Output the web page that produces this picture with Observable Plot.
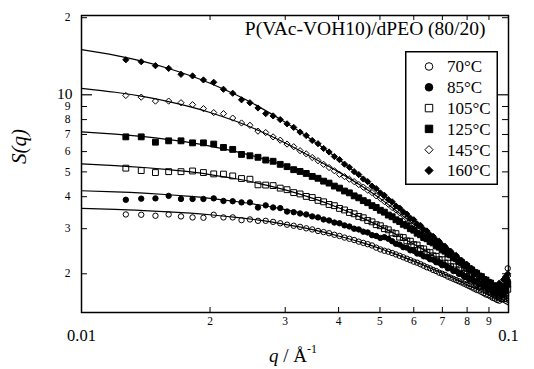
<!DOCTYPE html>
<html><head><meta charset="utf-8">
<script src="https://cdn.jsdelivr.net/npm/d3@7"></script>
<script src="https://cdn.jsdelivr.net/npm/@observablehq/plot@0.6"></script>
<style>
body{margin:0;background:#fff;}
#wrap{position:relative;width:534px;height:369px;font-family:"Liberation Serif","Times New Roman",serif;color:#000;}
#xtitle{position:absolute;left:233px;width:120px;top:346px;text-align:center;font-size:19px;line-height:19px;white-space:nowrap;}
#xtitle sup{font-size:12px;vertical-align:0;position:relative;top:-9px;}
#legend{position:absolute;left:405px;top:51px;}
</style></head><body><div id="wrap"><div id="xtitle"><i>q</i> / Å<sup>-1</sup></div><div id="legend"></div></div>
<script>
// ---- data ----
const temps = ["70°C","85°C","105°C","125°C","145°C","160°C"];
const q = [0.0127,0.0138,0.0149,0.0160,0.0171,0.0182,0.0193,0.0204,0.0215,0.0226,0.0237,0.0248,0.0259,0.0270,0.0281,0.0292,0.0303,0.0314,0.0325,0.0336,0.0347,0.0358,0.0369,0.0380,0.0391,0.0402,0.0413,0.0424,0.0435,0.0446,0.0457,0.0468,0.0479,0.0490,0.0501,0.0512,0.0523,0.0534,0.0545,0.0556,0.0567,0.0578,0.0589,0.0600,0.0611,0.0622,0.0633,0.0644,0.0655,0.0666,0.0677,0.0688,0.0699,0.0710,0.0721,0.0732,0.0743,0.0754,0.0765,0.0776,0.0787,0.0798,0.0809,0.0820,0.0831,0.0842,0.0853,0.0864,0.0875,0.0886,0.0897,0.0908,0.0919,0.0930,0.0941,0.0952,0.0963,0.0974,0.0985,0.0996];
const s70 = [3.41,3.40,3.37,3.41,3.35,3.32,3.31,3.40,3.32,3.32,3.24,3.26,3.22,3.22,3.19,3.15,3.11,3.08,3.05,3.01,2.98,2.94,2.91,2.88,2.84,2.81,2.77,2.74,2.71,2.67,2.64,2.61,2.58,2.53,2.49,2.46,2.44,2.41,2.38,2.35,2.32,2.29,2.26,2.23,2.21,2.18,2.15,2.12,2.10,2.07,2.05,2.02,2.00,1.98,1.95,1.93,1.91,1.89,1.87,1.85,1.83,1.81,1.79,1.77,1.75,1.73,1.72,1.70,1.68,1.66,1.65,1.63,1.61,1.60,1.58,1.57,1.59,1.62,1.70,2.10];
const s85 = [3.89,3.93,3.94,4.03,3.92,3.92,3.92,3.94,3.85,3.84,3.80,3.80,3.63,3.70,3.63,3.61,3.50,3.48,3.44,3.41,3.35,3.32,3.26,3.23,3.17,3.15,3.09,3.06,3.00,2.98,2.92,2.90,2.83,2.81,2.76,2.78,2.74,2.68,2.62,2.60,2.54,2.53,2.47,2.46,2.40,2.39,2.34,2.33,2.28,2.27,2.22,2.21,2.16,2.16,2.10,2.10,2.05,2.05,2.00,2.00,1.95,1.95,1.90,1.91,1.86,1.87,1.82,1.83,1.78,1.80,1.74,1.76,1.70,1.72,1.67,1.70,1.66,1.74,1.80,1.88];
const s105 = [5.17,5.06,4.97,5.01,5.01,5.04,4.97,4.91,4.90,4.82,4.71,4.68,4.45,4.44,4.42,4.32,4.26,4.15,4.10,4.01,3.97,3.87,3.82,3.73,3.69,3.60,3.55,3.47,3.43,3.35,3.31,3.23,3.19,3.11,3.08,3.00,2.97,2.89,2.87,2.78,2.77,2.69,2.68,2.60,2.59,2.51,2.50,2.43,2.42,2.35,2.34,2.27,2.27,2.20,2.20,2.13,2.13,2.07,2.07,2.01,2.01,1.95,1.96,1.89,1.90,1.84,1.85,1.79,1.80,1.74,1.76,1.70,1.72,1.65,1.68,1.62,1.66,1.60,1.68,1.74];
const s125 = [6.85,6.85,6.53,6.61,6.61,6.49,6.49,6.42,6.23,6.12,5.85,5.78,5.70,5.56,5.50,5.35,5.24,5.10,5.02,4.93,4.80,4.72,4.60,4.52,4.40,4.32,4.21,4.14,4.03,3.96,3.86,3.79,3.69,3.63,3.54,3.48,3.39,3.34,3.25,3.20,3.12,3.08,3.00,2.96,2.88,2.84,2.77,2.74,2.67,2.64,2.57,2.54,2.48,2.45,2.39,2.37,2.31,2.29,2.23,2.21,2.16,2.14,2.09,2.07,2.02,2.01,1.96,1.95,1.90,1.89,1.85,1.84,1.79,1.79,1.74,1.76,1.70,1.78,1.72,1.82];
const s145 = [9.94,9.79,9.45,9.45,9.31,9.15,8.83,8.52,8.44,8.11,7.76,7.60,7.21,7.12,6.85,6.65,6.42,6.27,6.05,5.88,5.69,5.53,5.35,5.20,5.05,4.89,4.79,4.68,4.58,4.46,4.36,4.24,4.15,4.03,3.94,3.83,3.74,3.63,3.55,3.46,3.38,3.29,3.22,3.13,3.07,2.98,2.93,2.84,2.79,2.71,2.67,2.59,2.55,2.48,2.45,2.37,2.35,2.27,2.25,2.19,2.17,2.08,2.07,2.01,2.00,1.94,1.95,1.88,1.89,1.82,1.84,1.76,1.79,1.71,1.75,1.68,1.80,1.72,1.88,1.96];
const s160 = [13.70,13.46,12.99,12.68,12.02,11.85,11.43,11.19,10.51,10.14,9.56,9.31,8.88,8.44,8.27,8.00,7.70,7.46,7.15,6.93,6.63,6.44,6.17,5.98,5.74,5.58,5.36,5.21,5.01,4.88,4.69,4.58,4.40,4.30,4.14,4.05,3.90,3.82,3.68,3.61,3.49,3.42,3.30,3.25,3.13,3.09,2.98,2.94,2.84,2.80,2.71,2.68,2.59,2.56,2.48,2.45,2.37,2.36,2.28,2.26,2.19,2.18,2.11,2.10,2.03,2.03,1.96,1.96,1.90,1.90,1.84,1.85,1.78,1.80,1.74,1.84,1.80,1.90,1.95,2.00];

// fitted curves
const qFit = [0.010,0.012,0.014,0.016,0.018,0.020,0.023,0.026,0.030,0.035,0.040,0.045,0.050,0.055,0.060,0.065,0.070,0.075,0.080,0.085,0.090,0.095,0.100];
const fit70  = [3.60,3.57,3.53,3.49,3.45,3.40,3.32,3.24,3.12,2.97,2.81,2.66,2.51,2.37,2.24,2.12,2.01,1.91,1.81,1.73,1.65,1.58,1.51];
const fit85  = [4.22,4.18,4.13,4.07,4.01,3.94,3.83,3.72,3.56,3.36,3.16,2.96,2.78,2.61,2.45,2.30,2.17,2.04,1.93,1.84,1.75,1.66,1.59];
const fit105 = [5.37,5.29,5.20,5.10,5.00,4.88,4.70,4.51,4.25,3.93,3.62,3.33,3.07,2.83,2.61,2.42,2.24,2.09,1.95,1.83,1.72,1.62,1.54];
const fit125 = [7.16,7.02,6.86,6.68,6.50,6.30,6.00,5.69,5.28,4.79,4.33,3.92,3.55,3.23,2.95,2.70,2.48,2.29,2.12,1.98,1.85,1.74,1.63];
const fit145 = [10.60,10.23,9.83,9.40,8.97,8.53,7.88,7.25,6.48,5.65,5.00,4.43,3.94,3.49,3.12,2.80,2.54,2.31,2.11,1.95,1.80,1.67,1.56];
const fit160 = [15.00,14.26,13.47,12.67,11.87,11.10,10.00,8.99,7.81,6.59,5.60,4.81,4.17,3.66,3.24,2.89,2.60,2.36,2.16,1.99,1.84,1.71,1.60];

// axis ticks
const xMinor = [0.02,0.03,0.04,0.05,0.06,0.07,0.08,0.09];
const xMinorLabels = ["2","3","4","5","6","7","8","9"];
const xMajor = [0.01,0.1];
const xMajorLabels = ["0.01","0.1"];
const yMinor = [2,3,4,5,6,7,8,9,20];
const yMinorLabels = ["2","3","4","5","6","7","8","9","2"];
const yMajor = [10];
const yMajorLabels = ["10"];

// ---- build ----
const values = [s70,s85,s105,s125,s145,s160];
const fitsAll = [fit70,fit85,fit105,fit125,fit145,fit160];
const symbols = ["circle","circle","square","square","diamond2","diamond2"];
const filled = [false,true,false,true,false,true];
const radii = [2.7,2.7,3.3,3.3,2.8,2.8];

const W = 534, H = 369, mT = 15, mB = 57, mL = 81, mR = 26;
const FW = W - mL - mR, FH = H - mT - mB;

const fitRows = temps.flatMap((t,k) => qFit.map((qq,i) => ({q: qq, S: fitsAll[k][i], t})));
const dotMarks = temps.map((t,k) => Plot.dot(
  q.map((qq,i) => ({q: qq, S: values[k][i]})).filter(d => d.S != null),
  {x: "q", y: "S", symbol: symbols[k], r: radii[k],
   fill: filled[k] ? "black" : "none", stroke: "black", strokeWidth: 1}));

const font = "'Liberation Serif', 'Times New Roman', serif";
const chart = Plot.plot({
  width: W, height: H,
  marginTop: mT, marginBottom: mB, marginLeft: mL, marginRight: mR,
  style: {fontFamily: font, background: "white", color: "black"},
  x: {type: "log", domain: [0.01, 0.1], axis: null},
  y: {type: "log", domain: [1.412, 20.4], axis: null},
  marks: [
    Plot.line(fitRows, {x: "q", y: "S", z: "t", stroke: "black", strokeWidth: 1.2, curve: "natural"}),
    ...dotMarks,
    Plot.frame({stroke: "black", strokeWidth: 1.5}),
    // ticks (inward)
    Plot.ruleX(xMinor, {x: d => d, insetTop: FH - 5, stroke: "black", strokeWidth: 1}),
    Plot.ruleX(xMinor, {x: d => d, insetBottom: FH - 5, stroke: "black", strokeWidth: 1}),
    Plot.ruleY(yMinor, {y: d => d, insetRight: FW - 6, stroke: "black", strokeWidth: 1}),
    Plot.ruleY(yMinor, {y: d => d, insetLeft: FW - 6, stroke: "black", strokeWidth: 1}),
    Plot.ruleY(yMajor, {y: d => d, insetRight: FW - 11, stroke: "black", strokeWidth: 1.2}),
    Plot.ruleY(yMajor, {y: d => d, insetLeft: FW - 11, stroke: "black", strokeWidth: 1.2}),
    // tick labels
    Plot.text(xMinor, {x: d => d, text: (d,i) => xMinorLabels[i], frameAnchor: "bottom", dy: 9, lineAnchor: "middle", fontSize: 11.5}),
    Plot.text(xMajor, {x: d => d, text: (d,i) => xMajorLabels[i], frameAnchor: "bottom", dy: 23, lineAnchor: "middle", fontSize: 16.5}),
    Plot.text(yMinor, {y: d => d, text: (d,i) => yMinorLabels[i], frameAnchor: "left", textAnchor: "end", dx: -11, lineAnchor: "middle", fontSize: 11.5}),
    Plot.text(yMajor, {y: d => d, text: (d,i) => yMajorLabels[i], frameAnchor: "left", textAnchor: "end", dx: -9, dy: -1, lineAnchor: "middle", fontSize: 15.5}),
    // titles
    Plot.text(["P(VAc-VOH10)/dPEO (80/20)"], {text: d => d, frameAnchor: "top-right", textAnchor: "end", dx: -23, dy: 13, lineAnchor: "middle", fontSize: 19.5}),
    Plot.text(["S(q)"], {text: d => d, frameAnchor: "left", dx: -62, rotate: -90, lineAnchor: "middle", fontSize: 21, fontStyle: "italic"})
  ]
});
const wrap = document.getElementById("wrap");
wrap.insertBefore(chart, wrap.firstChild);

// legend
const lg = d3.select("#legend").append("svg").attr("width", 93).attr("height", 134);
lg.append("rect").attr("x", 0.75).attr("y", 0.75).attr("width", 91.5).attr("height", 132.5)
  .attr("fill", "white").attr("stroke", "black").attr("stroke-width", 1.5);
const symMap = {circle: d3.symbolCircle, square: d3.symbolSquare, diamond2: d3.symbolDiamond2};
temps.forEach((t,k) => {
  const cy = 15.5 + k * 20.8;
  const r = k < 2 ? 3.8 : k < 4 ? 4.2 : 3.7;
  lg.append("path").attr("d", d3.symbol(symMap[symbols[k]], Math.PI * r * r)())
    .attr("transform", `translate(24,${cy})`)
    .attr("fill", filled[k] ? "black" : "white").attr("stroke", "black").attr("stroke-width", 1);
  lg.append("text").attr("x", 42).attr("y", cy).attr("dy", "0.35em")
    .attr("font-family", font).attr("font-size", 17).attr("fill", "black").text(t);
});
</script></body></html>
